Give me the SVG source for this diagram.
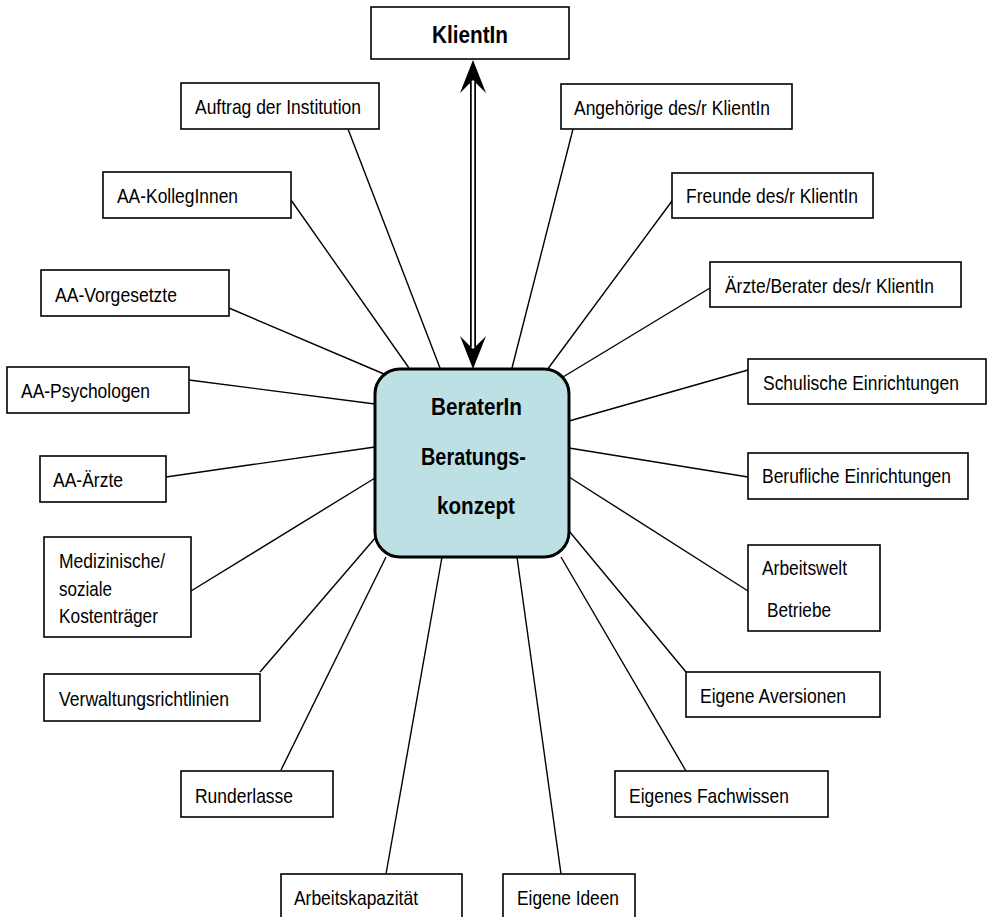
<svg xmlns="http://www.w3.org/2000/svg" width="992" height="917" viewBox="0 0 992 917">
<style>
.box{fill:#fff;stroke:#000;stroke-width:1.6}
.center{fill:#bde0e4;stroke:#000;stroke-width:3}
.t{font-family:"Liberation Sans",Arial,sans-serif;font-size:21px;fill:#000}
.b{font-family:"Liberation Sans",Arial,sans-serif;font-size:23px;font-weight:bold;fill:#000;text-anchor:middle}
.c{stroke:#000;stroke-width:1.4;fill:none}
.shaft{stroke:#000;stroke-width:6}
.shaft-in{stroke:#fff;stroke-width:2.5}
.head{fill:#000}
</style>
<rect width="992" height="917" fill="#fff"/>
<g id="connectors">
<line class="c" x1="348" y1="129" x2="440" y2="368"/>
<line class="c" x1="291" y1="200" x2="409" y2="368"/>
<line class="c" x1="229" y1="308" x2="384" y2="374"/>
<line class="c" x1="189" y1="380" x2="375" y2="404"/>
<line class="c" x1="166" y1="477" x2="375" y2="447"/>
<line class="c" x1="191" y1="591" x2="375" y2="478"/>
<line class="c" x1="260" y1="672" x2="376" y2="537"/>
<line class="c" x1="281" y1="770" x2="386" y2="557"/>
<line class="c" x1="386" y1="874" x2="442" y2="557"/>
<line class="c" x1="561" y1="874" x2="517" y2="557"/>
<line class="c" x1="686" y1="771" x2="561" y2="557"/>
<line class="c" x1="686" y1="672" x2="569" y2="531"/>
<line class="c" x1="748" y1="591" x2="569" y2="477"/>
<line class="c" x1="748" y1="477" x2="569" y2="448"/>
<line class="c" x1="748" y1="370" x2="569" y2="421"/>
<line class="c" x1="710" y1="288" x2="563" y2="377"/>
<line class="c" x1="672" y1="201" x2="547" y2="370"/>
<line class="c" x1="573" y1="129" x2="512" y2="368"/>
<line class="shaft" x1="473" y1="82" x2="473" y2="347"/>
<line class="shaft-in" x1="473" y1="82" x2="473" y2="347"/>
<path class="head" d="M473,60 L486,93 L473,80 L460,93 Z"/>
<path class="head" d="M473,369 L486,336 L473,349 L460,336 Z"/>
</g>
<g id="klientin">
<rect class="box" x="371" y="7" width="198" height="52"/>
<text class="b" x="470" y="43" textLength="76" lengthAdjust="spacingAndGlyphs">KlientIn</text>
</g>
<g id="berater">
<rect class="center" x="375" y="369" width="194" height="188" rx="25" ry="25"/>
<text class="b" x="476.5" y="415" textLength="91" lengthAdjust="spacingAndGlyphs">BeraterIn</text>
<text class="b" x="473.5" y="465" textLength="105" lengthAdjust="spacingAndGlyphs">Beratungs-</text>
<text class="b" x="476" y="514" textLength="78" lengthAdjust="spacingAndGlyphs">konzept</text>
</g>
<g id="auftrag">
<rect class="box" x="181" y="83" width="198" height="46"/>
<text class="t" x="195" y="114" textLength="166" lengthAdjust="spacingAndGlyphs">Auftrag der Institution</text>
</g>
<g id="kollegen">
<rect class="box" x="103" y="172" width="188" height="46"/>
<text class="t" x="117" y="203" textLength="121" lengthAdjust="spacingAndGlyphs">AA-KollegInnen</text>
</g>
<g id="vorgesetzte">
<rect class="box" x="41" y="270" width="188" height="46"/>
<text class="t" x="55" y="302" textLength="122" lengthAdjust="spacingAndGlyphs">AA-Vorgesetzte</text>
</g>
<g id="psychologen">
<rect class="box" x="7" y="367" width="182" height="46"/>
<text class="t" x="21" y="398" textLength="129" lengthAdjust="spacingAndGlyphs">AA-Psychologen</text>
</g>
<g id="aerzte">
<rect class="box" x="40" y="456" width="126" height="46"/>
<text class="t" x="53" y="487" textLength="70" lengthAdjust="spacingAndGlyphs">AA-Ärzte</text>
</g>
<g id="kostentraeger">
<rect class="box" x="44" y="537" width="147" height="100"/>
<text class="t" x="59" y="568" textLength="106" lengthAdjust="spacingAndGlyphs">Medizinische/</text>
<text class="t" x="59" y="596" textLength="53" lengthAdjust="spacingAndGlyphs">soziale</text>
<text class="t" x="59" y="623" textLength="99" lengthAdjust="spacingAndGlyphs">Kostenträger</text>
</g>
<g id="verwaltung">
<rect class="box" x="44" y="674" width="216" height="47"/>
<text class="t" x="59" y="706" textLength="170" lengthAdjust="spacingAndGlyphs">Verwaltungsrichtlinien</text>
</g>
<g id="runderlasse">
<rect class="box" x="181" y="771" width="152" height="46"/>
<text class="t" x="195" y="803" textLength="98" lengthAdjust="spacingAndGlyphs">Runderlasse</text>
</g>
<g id="kapazitaet">
<rect class="box" x="281" y="874" width="181" height="60"/>
<text class="t" x="294" y="905" textLength="124" lengthAdjust="spacingAndGlyphs">Arbeitskapazität</text>
</g>
<g id="ideen">
<rect class="box" x="503" y="874" width="132" height="60"/>
<text class="t" x="517" y="905" textLength="102" lengthAdjust="spacingAndGlyphs">Eigene Ideen</text>
</g>
<g id="fachwissen">
<rect class="box" x="615" y="771" width="213" height="46"/>
<text class="t" x="629" y="803" textLength="160" lengthAdjust="spacingAndGlyphs">Eigenes Fachwissen</text>
</g>
<g id="aversionen">
<rect class="box" x="686" y="672" width="194" height="45"/>
<text class="t" x="700" y="703" textLength="146" lengthAdjust="spacingAndGlyphs">Eigene Aversionen</text>
</g>
<g id="arbeitswelt">
<rect class="box" x="748" y="545" width="132" height="86"/>
<text class="t" x="762" y="575" textLength="85" lengthAdjust="spacingAndGlyphs">Arbeitswelt</text>
<text class="t" x="767" y="617" textLength="64" lengthAdjust="spacingAndGlyphs">Betriebe</text>
</g>
<g id="beruflich">
<rect class="box" x="748" y="453" width="220" height="46"/>
<text class="t" x="762" y="483" textLength="189" lengthAdjust="spacingAndGlyphs">Berufliche Einrichtungen</text>
</g>
<g id="schulisch">
<rect class="box" x="748" y="359" width="238" height="45"/>
<text class="t" transform="translate(763,390) scale(0.831,1)" x="0" y="0">Schulische Einrichtungen</text>
</g>
<g id="aerzte-berater">
<rect class="box" x="710" y="262" width="251" height="45"/>
<text class="t" x="725" y="293" textLength="209" lengthAdjust="spacingAndGlyphs">Ärzte/Berater des/r KlientIn</text>
</g>
<g id="freunde">
<rect class="box" x="672" y="173" width="201" height="45"/>
<text class="t" x="686" y="203" textLength="172" lengthAdjust="spacingAndGlyphs">Freunde des/r KlientIn</text>
</g>
<g id="angehoerige">
<rect class="box" x="561" y="84" width="231" height="45"/>
<text class="t" x="574" y="115" textLength="196" lengthAdjust="spacingAndGlyphs">Angehörige des/r KlientIn</text>
</g>
</svg>
